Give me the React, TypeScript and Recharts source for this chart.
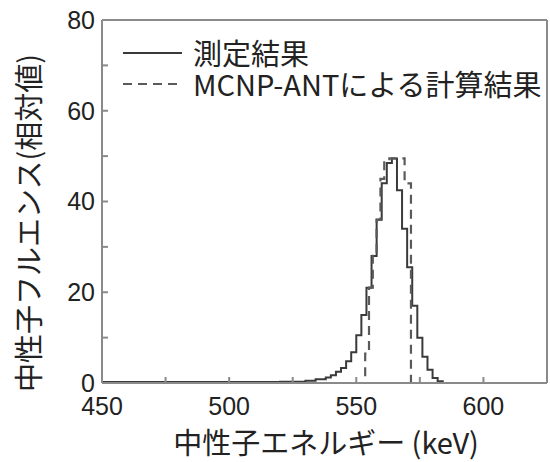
import { LineChart, Line, XAxis, YAxis, Legend, Label } from 'recharts';

// measured spectrum (step histogram, bin start energy in keV)
const measuredEnergy = [450, 520, 530, 534, 538, 540, 542, 544, 546, 548, 550, 552, 554, 556, 558, 560, 562, 564, 566, 568, 570, 572, 574, 576, 578, 580, 582, 584, 625];
const measuredValue = [0.2, 0.3, 0.5, 0.8, 1.2, 1.7, 2.5, 3.3, 4.8, 6.8, 10.5, 15, 21, 28, 36, 44, 48.5, 49.5, 42.5, 34, 25.5, 17, 10, 5.8, 2.9, 1.1, 0.4, 0, 0];

// MCNP-ANT calculation
const calcEnergy = [450, 553.5, 555, 556.5, 558, 559.5, 561, 563, 569, 571.5, 625];
const calcValue = [0, 6.5, 21, 28, 36, 45, 49, 49.5, 44, 0, 0];

const seriesNames = ['測定結果', 'MCNP-ANTによる計算結果'];

const xTicks = [450, 462.5, 475, 487.5, 500, 512.5, 525, 537.5, 550, 562.5, 575, 587.5, 600, 612.5, 625];
const xLabels = [450, 500, 550, 600];
const yTicks = [0, 10, 20, 30, 40, 50, 60, 70, 80];
const yLabels = [0, 20, 40, 60, 80];

const measured = measuredEnergy.map((e, i) => ({ e, v: measuredValue[i] }));
const calc = calcEnergy.map((e, i) => ({ e, v: calcValue[i] }));

const CJK = '"Noto Sans CJK JP", "Noto Sans", sans-serif';
const NUM = '"Liberation Sans", Arial, sans-serif';
const FRAME = '#8a8a8a';
const INK = '#222';

const XTick = ({ x, y, payload }: any) =>
    xLabels.includes(payload.value) ? (
        <text x={x} y={y} dy="0.71em" textAnchor="middle" fontFamily={NUM} fontSize={25} fill={INK}>
            {payload.value}
        </text>
    ) : <g />;

const YTick = ({ x, y, payload }: any) =>
    yLabels.includes(payload.value) ? (
        <text x={x} y={y} dy="0.355em" textAnchor="end" fontFamily={NUM} fontSize={25} fill={INK}>
            {payload.value}
        </text>
    ) : <g />;

const LegendBox = ({ payload }: any) => {
    const items = (payload || [])
        .filter((entry: any) => seriesNames.includes(entry.value))
        .sort((a: any, b: any) => seriesNames.indexOf(a.value) - seriesNames.indexOf(b.value));
    return (
        <div style={{ fontFamily: CJK, fontSize: 29, lineHeight: '31px', color: INK }}>
            {items.map((entry: any) => (
                <div key={entry.value} style={{ display: 'flex', alignItems: 'center', whiteSpace: 'nowrap' }}>
                    <svg width={70} height={31}>
                        <line x1={0} y1={16} x2={59} y2={16} stroke={entry.color} strokeWidth={2.2}
                            strokeDasharray={entry.payload?.strokeDasharray} />
                    </svg>
                    <span>{entry.value}</span>
                </div>
            ))}
        </div>
    );
};

export default function App() {
    return (
        <div style={{ position: 'absolute', left: 0, top: 0, background: '#fff' }}>
            <LineChart width={550} height={462} margin={{ top: 19, right: 2, bottom: 0, left: 0 }}>
                <XAxis dataKey="e" type="number" domain={[450, 625]} ticks={xTicks} allowDataOverflow
                    height={79} tickSize={-6} tickMargin={20} tick={<XTick />}
                    stroke={FRAME} strokeWidth={2}>
                    <Label content={() => (
                        <text x={326} y={454} textAnchor="middle" fontFamily={CJK} fontSize={29} fill={INK}>
                            中性子エネルギー (keV)
                        </text>
                    )} />
                </XAxis>
                <XAxis xAxisId="top" orientation="top" dataKey="e" type="number" domain={[450, 625]}
                    ticks={xTicks} allowDataOverflow height={1} tickSize={-6} tick={false}
                    stroke={FRAME} strokeWidth={2} />
                <YAxis type="number" domain={[0, 80]} ticks={yTicks} allowDataOverflow width={102}
                    tickSize={-6} tickMargin={13} tick={<YTick />} stroke={FRAME} strokeWidth={2}>
                    <Label content={() => (
                        <text x={30} y={223} transform="rotate(-90 30 223)" dy="0.36em" textAnchor="middle"
                            fontFamily={CJK} fontSize={29} fill={INK}>
                            中性子フルエンス(相対値)
                        </text>
                    )} />
                </YAxis>
                <YAxis yAxisId="right" orientation="right" type="number" domain={[0, 80]} ticks={yTicks}
                    allowDataOverflow width={1} tickSize={-6} tick={false} stroke={FRAME} strokeWidth={2} />
                <Legend layout="vertical" align="center" verticalAlign="middle" content={<LegendBox />}
                    wrapperStyle={{ top: 37, left: 123, width: 'auto', height: 'auto' }} />
                <Line data={measured} dataKey="v" name={seriesNames[0]} type="stepAfter" stroke="#3a3a3a"
                    strokeWidth={2} dot={false} isAnimationActive={false} />
                <Line data={calc} dataKey="v" name={seriesNames[1]} type="stepAfter" stroke="#5a5a5a"
                    strokeWidth={2.2} strokeDasharray="9 6" dot={false} isAnimationActive={false} />
                {/* invisible series so the top and right frame axes are drawn */}
                <Line data={calc} dataKey="v" name="frame" xAxisId="top" yAxisId="right" stroke="none"
                    legendType="none" dot={false} activeDot={false} isAnimationActive={false} />
            </LineChart>
        </div>
    );
}
